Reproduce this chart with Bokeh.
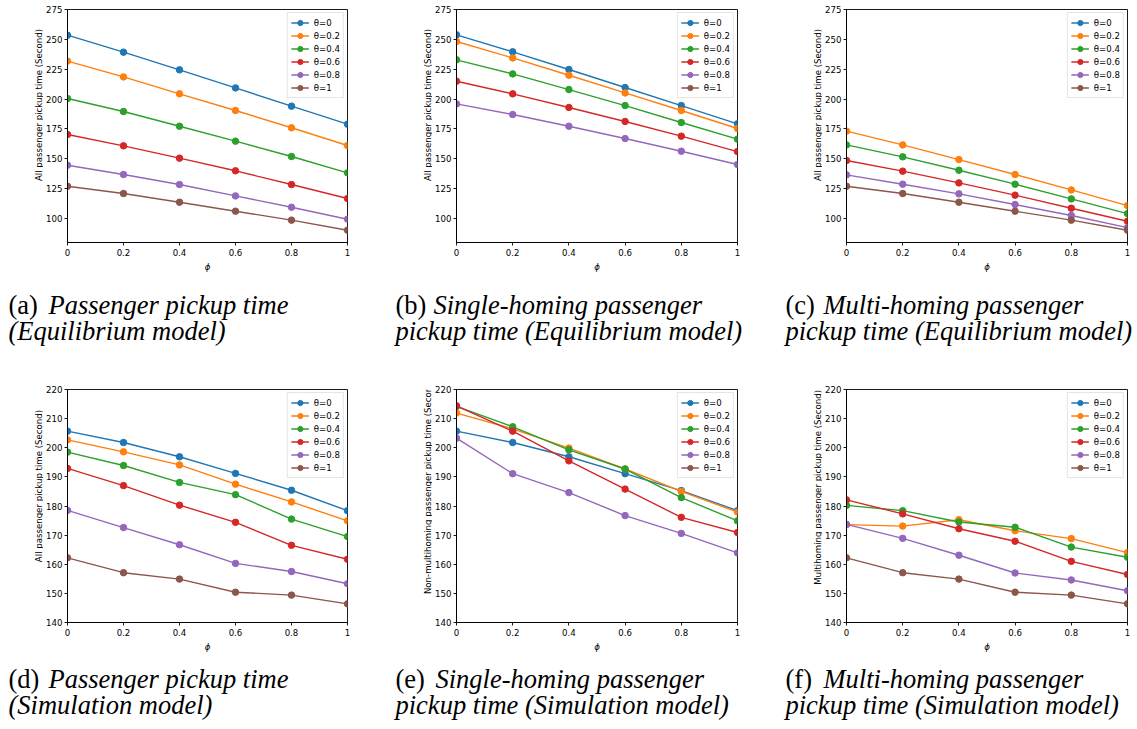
import math
from bokeh.plotting import figure
from bokeh.layouts import column, row
from bokeh.models import Range1d, FixedTicker, Spacer
from bokeh.core.properties import value
from bokeh.embed import file_html
from bokeh.resources import INLINE

# ---------------- data ----------------
phi = [0, 0.2, 0.4, 0.6, 0.8, 1.0]
phi_tick_labels = ["0", "0.2", "0.4", "0.6", "0.8", "1"]
theta_labels = ["θ=0", "θ=0.2", "θ=0.4", "θ=0.6", "θ=0.8", "θ=1"]
colors = ["#1f77b4", "#ff7f0e", "#2ca02c", "#d62728", "#9467bd", "#8c564b"]

eq_ticks = [100, 125, 150, 175, 200, 225, 250, 275]
sim_ticks = [140, 150, 160, 170, 180, 190, 200, 210, 220]

# (a) all passengers, equilibrium
eq_all = [
    [253.5, 239.3, 224.5, 209.4, 194.1, 179.0],
    [231.8, 218.6, 204.4, 190.5, 176.0, 161.2],
    [200.5, 189.6, 177.3, 164.8, 152.0, 138.3],
    [170.4, 160.9, 150.6, 140.0, 128.5, 116.8],
    [144.7, 136.9, 128.5, 119.0, 109.5, 99.5],
    [127.1, 121.0, 113.7, 106.2, 98.7, 90.3],
]
# (b) single-homing, equilibrium
eq_single = [
    [253.8, 239.6, 224.8, 209.7, 194.6, 179.3],
    [248.2, 234.5, 220.0, 205.2, 190.5, 175.4],
    [232.9, 221.1, 208.0, 194.6, 180.4, 166.5],
    [215.0, 204.4, 193.0, 181.3, 169.0, 156.1],
    [196.0, 187.1, 177.3, 167.0, 156.4, 145.3],
    [],
]
# (c) multi-homing, equilibrium
eq_multi = [
    [],
    [173.2, 161.7, 149.4, 136.9, 124.0, 110.9],
    [161.7, 151.7, 140.5, 128.8, 116.5, 104.2],
    [148.6, 139.7, 129.9, 119.6, 108.7, 97.8],
    [136.6, 128.8, 120.7, 111.8, 102.6, 92.5],
    [127.1, 121.0, 113.7, 106.2, 98.7, 90.3],
]
# (d) all passengers, simulation
sim_all = [
    [205.7, 201.8, 196.9, 191.2, 185.4, 178.4],
    [202.7, 198.6, 194.1, 187.5, 181.4, 174.9],
    [198.5, 193.9, 188.1, 183.9, 175.5, 169.5],
    [192.9, 187.0, 180.3, 174.4, 166.5, 161.7],
    [178.5, 172.6, 166.7, 160.3, 157.5, 153.3],
    [162.2, 157.1, 154.9, 150.4, 149.4, 146.4],
]
# (e) single-homing, simulation
sim_single = [
    [205.7, 201.8, 196.9, 191.1, 185.3, 178.4],
    [211.9, 206.5, 199.9, 192.7, 185.0, 177.9],
    [214.2, 207.2, 199.3, 192.7, 182.9, 174.9],
    [214.4, 205.7, 195.5, 185.8, 176.1, 170.9],
    [203.3, 191.1, 184.6, 176.7, 170.6, 163.9],
    [],
]
# (f) multi-homing, simulation
sim_multi = [
    [],
    [173.6, 173.1, 175.3, 171.5, 168.8, 164.0],
    [180.2, 178.4, 174.5, 172.7, 165.9, 162.4],
    [182.1, 177.3, 172.2, 167.9, 161.0, 156.5],
    [173.7, 168.9, 163.1, 157.0, 154.6, 150.9],
    [162.2, 157.1, 154.9, 150.4, 149.4, 146.4],
]

ylabels = [
    "All passenger pickup time (Second)",
    "All passenger pickup time (Second)",
    "All passenger pickup time (Second)",
    "All passenger pickup time (Second)",
    "Non-multihoming passenger pickup time (Second)",
    "Multihoming passenger pickup time  (Second)",
]
captions = [
    ("(a) ", "Passenger pickup time", "(Equilibrium model)"),
    ("(b) ", "Single-homing passenger", "pickup time (Equilibrium model)"),
    ("(c) ", "Multi-homing passenger", "pickup time (Equilibrium model)"),
    ("(d) ", "Passenger pickup time", "(Simulation model)"),
    ("(e) ", "Single-homing passenger", "pickup time (Simulation model)"),
    ("(f) ", "Multi-homing passenger", "pickup time (Simulation model)"),
]

# ---------------- layout geometry ----------------
# per column: leading spacer, y-title strip, panel figure (left border, frame, right border)
lead_sp = [33, 34, 34]
strip_w = 10
pan_w = [345, 346, 311]
pan_left = [22, 23, 24]
pan_frame = [282, 282, 281]
cap_w = [388, 390, 355]
cap_x0 = [8, 7, 7]
cap_off = [40, 38, 38, 40, 40, 38]
FONT = "DejaVu Sans"
FS = "8.6px"


def panel(series, yr, ticks, width, left, fw, height, top):
    p = figure(width=width, height=height, x_range=Range1d(0, 1), y_range=Range1d(*yr),
               toolbar_location=None, output_backend="svg",
               min_border_left=left, min_border_right=width - left - fw,
               min_border_top=top, min_border_bottom=height - top - 233,
               background_fill_color="white", border_fill_color="white")
    p.grid.visible = False
    p.outline_line_color = "black"
    p.outline_line_width = 0.9
    for ax in (p.xaxis[0], p.yaxis[0]):
        ax.axis_line_color = "black"
        ax.axis_line_width = 0.9
        ax.major_tick_line_color = "black"
        ax.major_tick_line_width = 0.9
        ax.major_tick_out = 3
        ax.major_tick_in = 0
        ax.minor_tick_line_color = None
        ax.major_label_text_font = FONT
        ax.major_label_text_font_size = FS
        ax.major_label_text_color = "black"
        ax.axis_label_text_font = FONT
        ax.axis_label_text_font_size = FS
        ax.axis_label_text_color = "black"
        ax.axis_label_standoff = 3
    p.xaxis.ticker = FixedTicker(ticks=phi)
    p.xaxis.major_label_overrides = {v: s for v, s in zip(phi, phi_tick_labels)}
    p.xaxis.major_label_standoff = 3
    p.xaxis.axis_label = "ϕ"
    p.xaxis.axis_label_text_font_style = "italic"
    p.yaxis.ticker = FixedTicker(ticks=ticks)
    p.yaxis.major_label_standoff = 2

    for vals, lab, c in zip(series, theta_labels, colors):
        ys = vals if len(vals) else [float("nan")] * len(phi)
        p.line(phi, ys, line_color=c, line_width=1.4, legend_label=lab)
        p.scatter(phi, ys, marker="circle", size=6.5, fill_color=c, line_color=c,
                  legend_label=lab)

    lg = p.legend[0]
    lg.location = "top_right"
    lg.margin = 3
    lg.padding = 3
    lg.spacing = 0
    lg.label_height = 13
    lg.glyph_height = 13
    lg.glyph_width = 18
    lg.label_standoff = 5
    lg.label_text_font = FONT
    lg.label_text_font_size = FS
    lg.label_text_color = "black"
    lg.border_line_color = "#cccccc"
    lg.border_line_width = 1
    lg.background_fill_alpha = 0.85
    return p


def ytitle(text, height, yc):
    s = figure(width=strip_w, height=height, x_range=Range1d(0, strip_w), y_range=Range1d(0, height),
               toolbar_location=None, output_backend="svg", min_border=0,
               x_axis_type=None, y_axis_type=None, outline_line_color=None,
               background_fill_color="white", border_fill_color="white")
    s.grid.visible = False
    s.text(x=[strip_w / 2], y=[yc], text=[text], angle=math.pi / 2,
           text_font=value(FONT), text_font_size=FS, text_align="center",
           text_baseline="middle", text_color="black")
    return s


def caption(width, height, x0, off, y1, y2, prefix, rest, line2):
    c = figure(width=width, height=height, x_range=Range1d(0, width), y_range=Range1d(0, height),
               toolbar_location=None, output_backend="svg", min_border=0,
               x_axis_type=None, y_axis_type=None, outline_line_color=None,
               background_fill_color="white", border_fill_color="white")
    c.grid.visible = False
    common = dict(text_font=value("Liberation Serif"), text_font_size="26.5px",
                  text_baseline="alphabetic", text_align="left", text_color="black")
    c.text(x=[x0], y=[y1], text=[prefix], **common)
    c.text(x=[x0 + off], y=[y1], text=[rest], text_font_style="italic", **common)
    c.text(x=[x0], y=[y2], text=[line2], text_font_style="italic", **common)
    return c


data = [eq_all, eq_single, eq_multi, sim_all, sim_single, sim_multi]
rows_top, rows_bot, caps_top, caps_bot = [], [], [], []
for i in range(6):
    ci = i % 3
    if i < 3:
        yr, ticks, h, top, yc = (80, 275), eq_ticks, 283, 9, 167
    else:
        yr, ticks, h, top, yc = (140, 220), sim_ticks, 280, 4, 164
    items = [Spacer(width=lead_sp[ci], height=h), ytitle(ylabels[i], h, yc),
             panel(data[i], yr, ticks, pan_w[ci], pan_left[ci], pan_frame[ci], h, top)]
    if i < 3:
        rows_top.extend(items)
        caps_top.append(caption(cap_w[ci], 102, cap_x0[ci], cap_off[i], 81, 54.5, *captions[i]))
    else:
        rows_bot.extend(items)
        caps_bot.append(caption(cap_w[ci], 62, cap_x0[ci], cap_off[i], 48.7, 22.7, *captions[i]))

layout = column(row(*rows_top, spacing=0), row(*caps_top, spacing=0),
                row(*rows_bot, spacing=0), row(*caps_bot, spacing=0), spacing=0)

open("out.html", "w").write(file_html(layout, INLINE))
